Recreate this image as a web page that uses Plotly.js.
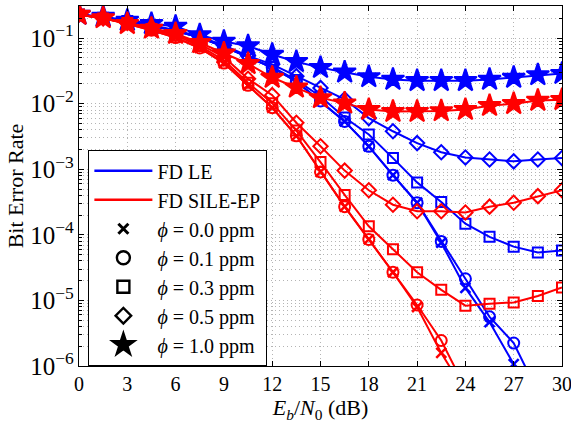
<!DOCTYPE html>
<html>
<head>
<meta charset="utf-8">
<script src="https://cdn.plot.ly/plotly-3.0.1.min.js"></script>
<style>html,body{margin:0;padding:0;background:#fff;}#chart{width:571px;height:423px;}</style>
</head>
<body>
<div id="chart"></div>
<script>
const snr = [0,1.5,3,4.5,6,7.5,9,10.5,12,13.5,15,16.5,18,19.5,21,22.5,24,25.5,27,28.5,30];

// FD LE (blue)
const le_phi00 = [0.229,0.204,0.182,0.155,0.129,0.102,0.0741,0.0513,0.0355,0.0219,0.0110,0.00537,0.00224,0.000813,0.000309,0.0000759,0.0000155,0.00000468,0.00000107,2.51e-7];
const le_phi01 = [0.229,0.204,0.182,0.155,0.129,0.102,0.0741,0.0513,0.0355,0.0219,0.0110,0.00537,0.00224,0.000813,0.000309,0.0000794,0.0000214,0.00000562,0.00000224,3.98e-7];
const le_phi03 = [0.229,0.204,0.182,0.155,0.129,0.102,0.0741,0.0513,0.0363,0.0229,0.0129,0.00617,0.00339,0.00148,0.000631,0.000316,0.000148,0.0000933,0.0000661,0.0000537,0.0000575];
const le_phi05 = [0.229,0.204,0.182,0.158,0.132,0.105,0.0776,0.0537,0.0398,0.0263,0.0174,0.0117,0.00603,0.00380,0.00251,0.00182,0.00151,0.00141,0.00132,0.00141,0.00148];
const le_phi10 = [0.229,0.214,0.186,0.166,0.151,0.112,0.0891,0.0759,0.0562,0.0437,0.0355,0.0302,0.0257,0.0234,0.0224,0.0224,0.0224,0.0234,0.0251,0.0275,0.0288];

// FD SILE-EP (red)
const ep_phi00 = [0.229,0.200,0.166,0.132,0.102,0.0708,0.0417,0.0191,0.00871,0.00324,0.000912,0.000269,0.0000851,0.0000269,0.00000794,0.00000158,3.98e-7];
const ep_phi01 = [0.229,0.200,0.166,0.132,0.102,0.0708,0.0417,0.0191,0.00871,0.00324,0.000912,0.000269,0.0000851,0.0000269,0.00000851,0.00000245,4.57e-7];
const ep_phi03 = [0.229,0.200,0.170,0.138,0.110,0.0759,0.0457,0.0209,0.0102,0.00389,0.00129,0.000407,0.000135,0.0000603,0.0000269,0.0000145,0.00000832,0.00000891,0.00000933,0.0000117,0.0000158];
const ep_phi05 = [0.229,0.200,0.170,0.145,0.115,0.0813,0.0513,0.0240,0.0135,0.00513,0.00224,0.000955,0.000479,0.000288,0.000229,0.000229,0.000219,0.000269,0.000309,0.000389,0.000479];
const ep_phi10 = [0.229,0.204,0.166,0.141,0.117,0.0851,0.0589,0.0407,0.0251,0.0178,0.0123,0.0102,0.00813,0.00759,0.00759,0.00776,0.00813,0.00933,0.0100,0.0112,0.0115];

const receivers = ['FD LE', 'FD SILE-EP'];
const phiLabels = ['ϕ = 0.0 ppm','ϕ = 0.1 ppm','ϕ = 0.3 ppm','ϕ = 0.5 ppm','ϕ = 1.0 ppm'];

const BLUE = '#0000ff', RED = '#ff0000';
const symbols = ['x-thin-open','circle-open','square-open','diamond-open','star'];
const sizes = [10,11,10,11,17];

function series(y, color, k) {
  return {
    x: snr.slice(0, y.length), y: y, type: 'scatter', mode: 'lines+markers',
    line: {color: color, width: 2},
    marker: {symbol: symbols[k], size: sizes[k], color: color,
             line: {color: color, width: k === 0 ? 2.5 : 2}},
    showlegend: false, cliponaxis: true
  };
}

const leSets = [le_phi00, le_phi01, le_phi03, le_phi05, le_phi10];
const epSets = [ep_phi00, ep_phi01, ep_phi03, ep_phi05, ep_phi10];
const traces = [];
leSets.forEach((y, k) => traces.push(series(y, BLUE, k)));
epSets.forEach((y, k) => traces.push(series(y, RED, k)));

// legend entries
traces.push({x:[null], y:[null], type:'scatter', mode:'lines', name: receivers[0], line:{color:BLUE, width:2.5}});
traces.push({x:[null], y:[null], type:'scatter', mode:'lines', name: receivers[1], line:{color:RED, width:2.5}});
phiLabels.forEach((lab, k) => {
  const parts = lab.split(' = ');
  traces.push({x:[null], y:[null], type:'scatter', mode:'markers',
    name: '<i>' + parts[0] + '</i> = ' + parts[1],
    marker:{symbol: symbols[k], size: [10,13,12,12,16][k], color:'black', line:{color:'black', width: k===0?3:2.4}}});
});

const FONT = 'Liberation Serif';
const GRID = '#b4b4b4';

const layout = {
  width: 571, height: 423,
  margin: {l: 79, r: 9, t: 6, b: 57},
  paper_bgcolor: '#fff', plot_bgcolor: '#fff',
  font: {family: FONT, color: '#000', size: 20},
  xaxis: {
    range: [0, 30], dtick: 3, tick0: 0,
    ticks: 'inside', ticklen: 5, tickcolor: '#000',
    showline: true, linecolor: '#000', linewidth: 1.2, mirror: 'ticks',
    showgrid: true, gridcolor: GRID, griddash: '1px,3px', gridwidth: 1, zeroline: false,
    ticklabeloverflow: 'allow',
    tickfont: {size: 20, family: FONT},
    title: {text: '<i>E</i><sub><i>b</i></sub>/<i>N</i><sub>0</sub> (dB)', font: {size: 22, family: FONT}, standoff: 2}
  },
  yaxis: {
    type: 'log', range: [-6, -0.51], dtick: 1,
    exponentformat: 'power', showexponent: 'all',
    ticks: 'inside', ticklen: 5, tickcolor: '#000',
    showline: true, linecolor: '#000', linewidth: 1.2, mirror: 'ticks',
    showgrid: true, gridcolor: GRID, griddash: '1px,3px', gridwidth: 1, zeroline: false,
    ticklabeloverflow: 'allow',
    tickfont: {size: 20, family: FONT},
    title: {text: 'Bit Error Rate', font: {size: 22, family: FONT}, standoff: 0},
    minor: {dtick: 'D1', showgrid: true, gridcolor: GRID, griddash: '1px,3px', gridwidth: 1,
            ticks: 'inside', ticklen: 3, tickcolor: '#000'}
  },
  showlegend: true,
  legend: {
    x: 0.019, y: 0.6, xanchor: 'left', yanchor: 'top',
    bgcolor: '#fff', bordercolor: '#000', borderwidth: 1.2,
    font: {size: 20, family: FONT, color: '#000'},
    tracegroupgap: 0, itemwidth: 58
  }
};

Plotly.newPlot('chart', traces, layout, {displayModeBar: false, staticPlot: true});
</script>
</body>
</html>
